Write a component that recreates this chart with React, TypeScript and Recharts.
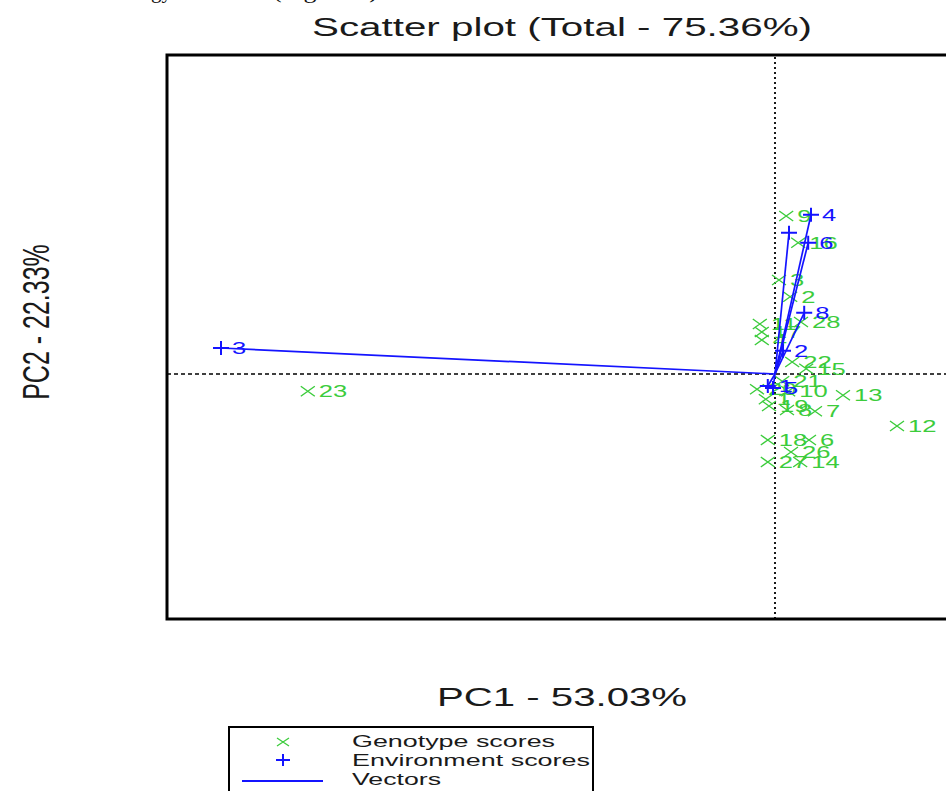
import { ScatterChart, Scatter, XAxis, YAxis, ReferenceLine } from "recharts";

// genotype scores (PC1, PC2)
const genoLabels = ["23", "12", "13", "9", "16", "3", "2", "28", "11", "17", "4", "22", "15", "20", "10", "21", "1", "19", "8", "7", "18", "6", "26", "27", "14"];
const genoPC1 = [-11.68, 3.05, 1.7, 0.28, 0.58, 0.1, 0.38, 0.65, -0.38, -0.33, -0.33, 0.43, 0.78, -0.45, 0.33, 0.18, -0.23, -0.15, 0.3, 1.0, -0.18, 0.85, 0.4, -0.18, 0.63];
const genoPC2 = [-0.43, -1.3, -0.53, 3.95, 3.28, 2.35, 1.93, 1.3, 1.25, 1.05, 0.85, 0.3, 0.13, -0.38, -0.43, -0.18, -0.63, -0.8, -0.9, -0.93, -1.65, -1.65, -1.95, -2.2, -2.2];

// environment scores (PC1, PC2); env 7 label is not visible in the plot
const envLabels = ["1", "2", "3", "4", "5", "6", "", "8"];
const envPC1 = [-0.18, 0.2, -13.85, 0.9, -0.05, 0.83, 0.35, 0.73];
const envPC2 = [-0.3, 0.58, 0.65, 3.98, -0.35, 3.28, 3.53, 1.53];

const xDomain = [-15.2, 5.625];
const yDomain = [-6.125, 7.975];

const GREEN = "#3ccc3c";
const BLUE = "#1414ff";
const FONT = "'Liberation Sans', Arial, sans-serif";

const genoData = genoLabels.map((label, i) => ({ x: genoPC1[i], y: genoPC2[i], label }));
const envData = envLabels.map((label, i) => ({ x: envPC1[i], y: envPC2[i], label }));

const GenoMark = (props: any) => {
  const { cx, cy, payload } = props;
  return (
    <g>
      <path
        d={`M${cx - 7},${cy - 5}L${cx + 7},${cy + 5}M${cx - 7},${cy + 5}L${cx + 7},${cy - 5}`}
        stroke={GREEN}
        strokeWidth={1.4}
      />
      <text
        transform={`translate(${cx + 11},${cy + 6}) scale(1.55,1)`}
        fontSize={16.5}
        fill={GREEN}
        fontFamily={FONT}
      >
        {payload.label}
      </text>
    </g>
  );
};

const EnvMark = (props: any) => {
  const { cx, cy, payload } = props;
  return (
    <g>
      <path d={`M${cx - 8},${cy}L${cx + 8},${cy}M${cx},${cy - 7}L${cx},${cy + 7}`} stroke={BLUE} strokeWidth={2} />
      <text
        transform={`translate(${cx + 11},${cy + 6}) scale(1.55,1)`}
        fontSize={16.5}
        fill={BLUE}
        fontFamily={FONT}
      >
        {payload.label}
      </text>
    </g>
  );
};

const NoMark = () => <g />;

export default function App() {
  return (
    <div style={{ position: "fixed", left: 0, top: 0, width: 946, height: 791, overflow: "hidden", background: "#fff" }}>
      <div style={{ position: "absolute", left: 0, top: 0 }}>
        <ScatterChart width={1010} height={640} margin={{ top: 55, right: 10, bottom: 21, left: 167 }}>
          <XAxis type="number" dataKey="x" domain={xDomain} allowDataOverflow hide />
          <YAxis type="number" dataKey="y" domain={yDomain} allowDataOverflow hide />
          <ReferenceLine x={0} stroke="#000" strokeWidth={1.8} strokeDasharray="2 3" />
          <ReferenceLine y={0} stroke="#000" strokeWidth={1.6} strokeDasharray="4 3" />
          <Scatter data={genoData} shape={GenoMark} isAnimationActive={false} />
          {envData.map((e, i) => (
            <Scatter
              key={i}
              data={[{ x: 0, y: 0 }, { x: e.x, y: e.y }]}
              line={{ stroke: BLUE, strokeWidth: 1.7 }}
              shape={NoMark}
              isAnimationActive={false}
            />
          ))}
          <Scatter data={envData} shape={EnvMark} isAnimationActive={false} />
        </ScatterChart>
      </div>
      <svg width={946} height={791} style={{ position: "absolute", left: 0, top: 0, pointerEvents: "none" }}>
        {/* bottom of the document text above the figure: only descenders show */}
        <text x={172} y={-2} textAnchor="end" fontSize={21} fontFamily="'Liberation Serif', serif" fill="#111">
          strategy
        </text>
        <text x={273} y={-2} textLength={105} lengthAdjust="spacingAndGlyphs" fontSize={21} fontFamily="'Liberation Serif', serif" fill="#111">
          (Figure 3)
        </text>

        <rect x={167} y={55} width={900} height={564} fill="none" stroke="#000" strokeWidth={3} />

        <text x={312} y={36} textLength={500} lengthAdjust="spacingAndGlyphs" fontSize={25} fontFamily={FONT} fill="#1a1a1a">
          Scatter plot (Total - 75.36%)
        </text>
        <text x={437} y={706} textLength={250} lengthAdjust="spacingAndGlyphs" fontSize={25} fontFamily={FONT} fill="#1a1a1a">
          PC1 - 53.03%
        </text>
        <text transform="translate(49,322) scale(1.5,1) rotate(-90)" textAnchor="middle" fontSize={25} fontFamily={FONT} fill="#1a1a1a">
          PC2 - 22.33%
        </text>

        {/* legend */}
        <rect x={229} y={727} width={364} height={90} fill="#fff" stroke="#000" strokeWidth={2} />
        <path d="M277,738L289,746M277,746L289,738" stroke={GREEN} strokeWidth={1.3} />
        <path d="M276,760L290,760M283,754L283,766" stroke={BLUE} strokeWidth={2} />
        <line x1={242} y1={781} x2={323} y2={781} stroke={BLUE} strokeWidth={2} />
        <text x={352} y={747} textLength={203} lengthAdjust="spacingAndGlyphs" fontSize={16.5} fontFamily={FONT} fill="#1a1a1a">
          Genotype scores
        </text>
        <text x={352} y={766} textLength={238} lengthAdjust="spacingAndGlyphs" fontSize={16.5} fontFamily={FONT} fill="#1a1a1a">
          Environment scores
        </text>
        <text x={352} y={785} textLength={89} lengthAdjust="spacingAndGlyphs" fontSize={16.5} fontFamily={FONT} fill="#1a1a1a">
          Vectors
        </text>
      </svg>
    </div>
  );
}
